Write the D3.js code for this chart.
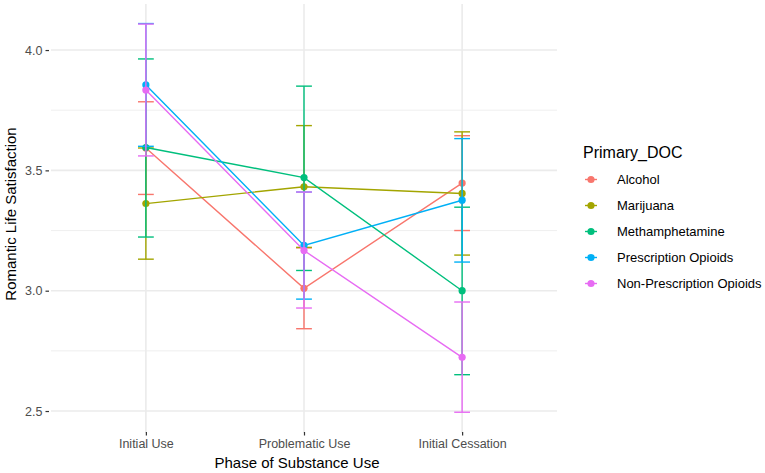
<!DOCTYPE html>
<html>
<head>
<meta charset="utf-8">
<script src="https://cdn.jsdelivr.net/npm/d3@7"></script>
<style>
  body { margin: 0; background: #fff; }
  text { font-family: "Liberation Sans", Arial, sans-serif; }
</style>
</head>
<body>
<div id="chart"></div>
<script>
// phases on the x axis
var phases = ["Initial Use", "Problematic Use", "Initial Cessation"];
var groups = ["Alcohol", "Marijuana", "Methamphetamine", "Prescription Opioids", "Non-Prescription Opioids"];
var colors = ["#F8766D", "#A3A500", "#00BF7D", "#00B0F6", "#E76BF3"];

// means per group, one value per phase
var means = [
    [3.593, 3.010, 3.447],
    [3.362, 3.432, 3.404],
    [3.595, 3.470, 3.000],
    [3.855, 3.188, 3.376],
    [3.834, 3.167, 2.723]
];
// error bar ends
var lower = [
    [3.400, 2.842, 3.250],
    [3.131, 3.180, 3.148],
    [3.223, 3.084, 2.651],
    [3.600, 2.965, 3.119],
    [3.560, 2.928, 2.495]
];
var upper = [
    [3.785, 3.178, 3.644],
    [3.593, 3.686, 3.660],
    [3.963, 3.850, 3.347],
    [4.110, 3.410, 3.632],
    [4.108, 3.410, 2.953]
];
var yTicks = [2.5, 3.0, 3.5, 4.0];
var yMinor = [2.75, 3.25, 3.75];

var width = 765, height = 473;
var panel = {left: 51, right: 557, top: 4, bottom: 433};

var svg = d3.select("#chart").append("svg")
    .attr("width", width)
    .attr("height", height);

// discrete x scale like ggplot (0.6 expansion each side)
var x = d3.scalePoint()
    .domain(phases)
    .range([panel.left, panel.right])
    .padding(0.6);

var y = d3.scaleLinear()
    .domain([2.4087, 4.1913])
    .range([panel.bottom, panel.top]);

var step = x.step();
var lw = 1.4;

// grid
svg.append("g").selectAll("line.minor")
    .data(yMinor).enter().append("line")
    .attr("x1", panel.left).attr("x2", panel.right)
    .attr("y1", function(d){ return y(d); })
    .attr("y2", function(d){ return y(d); })
    .attr("stroke", "#ebebeb").attr("stroke-width", 0.8);

svg.append("g").selectAll("line.major")
    .data(yTicks).enter().append("line")
    .attr("x1", panel.left).attr("x2", panel.right)
    .attr("y1", function(d){ return y(d); })
    .attr("y2", function(d){ return y(d); })
    .attr("stroke", "#ebebeb").attr("stroke-width", 1.6);

svg.append("g").selectAll("line.vert")
    .data(phases).enter().append("line")
    .attr("x1", function(d){ return x(d); })
    .attr("x2", function(d){ return x(d); })
    .attr("y1", panel.top).attr("y2", panel.bottom)
    .attr("stroke", "#ebebeb").attr("stroke-width", 1.6);

// axes
var yAxis = d3.axisLeft(y)
    .tickValues(yTicks)
    .tickFormat(d3.format(".1f"))
    .tickSize(3.5)
    .tickPadding(3);
var gy = svg.append("g")
    .attr("transform", "translate(" + (panel.left - 2) + ",0)")
    .call(yAxis);
gy.select(".domain").remove();
gy.selectAll(".tick line").attr("stroke", "#333").attr("stroke-width", 1.2);
gy.selectAll(".tick text").attr("fill", "#4d4d4d").attr("font-size", 12.5);

var xAxis = d3.axisBottom(x)
    .tickSize(3.5)
    .tickPadding(4);
var gx = svg.append("g")
    .attr("transform", "translate(0," + (panel.bottom - 1) + ")")
    .call(xAxis);
gx.select(".domain").remove();
gx.selectAll(".tick line").attr("stroke", "#333").attr("stroke-width", 1.2);
gx.selectAll(".tick text").attr("fill", "#4d4d4d").attr("font-size", 12.5);

// axis titles
svg.append("text")
    .attr("x", 297)
    .attr("y", 468)
    .attr("text-anchor", "middle")
    .attr("font-size", 15)
    .attr("fill", "#000")
    .text("Phase of Substance Use");

svg.append("text")
    .attr("transform", "translate(16,214) rotate(-90)")
    .attr("text-anchor", "middle")
    .attr("font-size", 15)
    .attr("fill", "#000")
    .text("Romantic Life Satisfaction");

// build rows
var series = groups.map(function(g, i){
    return {
        name: g,
        color: colors[i],
        values: phases.map(function(p, j){
            return {phase: p, mean: means[i][j], lo: lower[i][j], hi: upper[i][j]};
        })
    };
});

var line = d3.line()
    .x(function(d){ return x(d.phase); })
    .y(function(d){ return y(d.mean); });

var sg = svg.append("g").selectAll("g.series")
    .data(series).enter().append("g");

// error bars
sg.each(function(s){
    var g = d3.select(this);
    var eb = g.selectAll("g.eb").data(s.values).enter().append("g");
    eb.append("line")
        .attr("x1", function(d){ return x(d.phase); })
        .attr("x2", function(d){ return x(d.phase); })
        .attr("y1", function(d){ return y(d.lo); })
        .attr("y2", function(d){ return y(d.hi); })
        .attr("stroke", s.color).attr("stroke-width", lw);
    eb.selectAll("line.cap")
        .data(function(d){ return [{phase: d.phase, v: d.lo}, {phase: d.phase, v: d.hi}]; })
        .enter().append("line")
        .attr("x1", function(d){ return x(d.phase) - step * 0.05; })
        .attr("x2", function(d){ return x(d.phase) + step * 0.05; })
        .attr("y1", function(d){ return y(d.v); })
        .attr("y2", function(d){ return y(d.v); })
        .attr("stroke", s.color).attr("stroke-width", lw);
});

sg.append("path")
    .attr("d", function(s){ return line(s.values); })
    .attr("fill", "none")
    .attr("stroke", function(s){ return s.color; })
    .attr("stroke-width", lw);

sg.selectAll("circle")
    .data(function(s){ return s.values.map(function(v){ v.color = s.color; return v; }); })
    .enter().append("circle")
    .attr("cx", function(d){ return x(d.phase); })
    .attr("cy", function(d){ return y(d.mean); })
    .attr("r", 3.6)
    .attr("fill", function(d){ return d.color; });

// legend
var legend = svg.append("g").attr("transform", "translate(583,0)");
legend.append("text")
    .attr("x", 0).attr("y", 158)
    .attr("font-size", 16)
    .attr("fill", "#000")
    .text("Primary_DOC");

var li = legend.selectAll("g.item")
    .data(groups).enter().append("g")
    .attr("transform", function(d, i){ return "translate(0," + (179.5 + i * 26) + ")"; });
li.append("line")
    .attr("x1", 2).attr("x2", 14)
    .attr("stroke", function(d, i){ return colors[i]; })
    .attr("stroke-width", lw);
li.append("circle")
    .attr("cx", 8).attr("r", 3.6)
    .attr("fill", function(d, i){ return colors[i]; });
li.append("text")
    .attr("x", 34).attr("y", 0)
    .attr("dy", "0.35em")
    .attr("font-size", 13)
    .attr("fill", "#000")
    .text(function(d){ return d; });
</script>
</body>
</html>
